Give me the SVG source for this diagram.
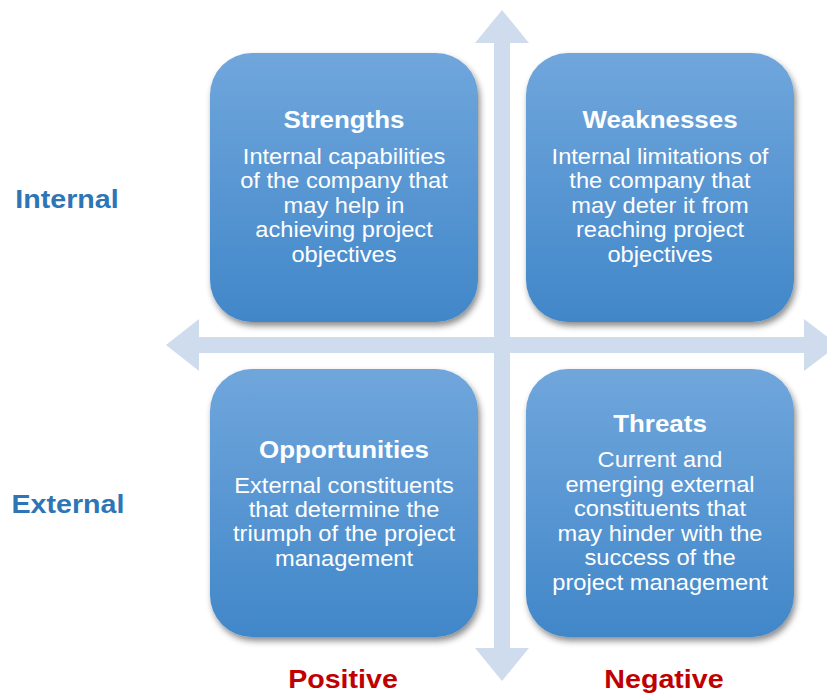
<svg xmlns="http://www.w3.org/2000/svg" width="827" height="696" viewBox="0 0 827 696">
  <defs>
    <linearGradient id="boxGrad" x1="0" y1="0" x2="0" y2="1">
      <stop offset="0" stop-color="#70a6dc"/>
      <stop offset="1" stop-color="#4187c9"/>
    </linearGradient>
    <filter id="shadow" x="-10%" y="-10%" width="125%" height="130%">
      <feDropShadow dx="2" dy="4" stdDeviation="3" flood-color="#000" flood-opacity="0.45"/>
    </filter>
    <style>
      .box { fill: url(#boxGrad); filter: url(#shadow); }
      .title { font-family: "Liberation Sans", Arial, sans-serif; font-weight: bold; font-size: 24px; fill: #fff; text-anchor: middle; }
      .body { font-family: "Liberation Sans", Arial, sans-serif; font-size: 21.5px; fill: #fff; text-anchor: middle; }
      .side { font-family: "Liberation Sans", Arial, sans-serif; font-weight: bold; font-size: 26.5px; fill: #2e75b6; text-anchor: middle; }
      .bottom { font-family: "Liberation Sans", Arial, sans-serif; font-weight: bold; font-size: 26.5px; fill: #c00000; text-anchor: middle; }
      .axis { fill: #cfdcee; }
    </style>
  </defs>

  <g id="connectors">
    <polygon class="axis" points="166,345 199,319 199,337 804,337 804,319 838,345 804,371 804,353 199,353 199,371"/>
    <polygon class="axis" points="502,10 529,43 510,43 510,648 529,648 502,681 475,648 494,648 494,43 475,43"/>
  </g>

  <g id="strengths">
    <rect class="box" x="210" y="53" width="268" height="269" rx="42"/>
    <g transform="translate(344,0) scale(1.08,1)">
      <text class="title" x="0" y="128">Strengths</text>
    </g>
    <g transform="translate(344,0) scale(1.1,1)" class="body">
      <text class="body" x="0" y="164">Internal capabilities</text>
      <text class="body" x="0" y="188.5">of the company that</text>
      <text class="body" x="0" y="213">may help in</text>
      <text class="body" x="0" y="237.5">achieving project</text>
      <text class="body" x="0" y="262">objectives</text>
    </g>
  </g>

  <g id="weaknesses">
    <rect class="box" x="526" y="53" width="268" height="269" rx="42"/>
    <g transform="translate(660,0) scale(1.08,1)">
      <text class="title" x="0" y="128">Weaknesses</text>
    </g>
    <g transform="translate(660,0) scale(1.1,1)">
      <text class="body" x="0" y="164">Internal limitations of</text>
      <text class="body" x="0" y="188.5">the company that</text>
      <text class="body" x="0" y="213">may deter it from</text>
      <text class="body" x="0" y="237.5">reaching project</text>
      <text class="body" x="0" y="262">objectives</text>
    </g>
  </g>

  <g id="opportunities">
    <rect class="box" x="210" y="369" width="268" height="268" rx="42"/>
    <g transform="translate(344,0) scale(1.08,1)">
      <text class="title" x="0" y="458">Opportunities</text>
    </g>
    <g transform="translate(344,0) scale(1.1,1)">
      <text class="body" x="0" y="493">External constituents</text>
      <text class="body" x="0" y="517">that determine the</text>
      <text class="body" x="0" y="541.5">triumph of the project</text>
      <text class="body" x="0" y="566">management</text>
    </g>
  </g>

  <g id="threats">
    <rect class="box" x="526" y="369" width="268" height="268" rx="42"/>
    <g transform="translate(660,0) scale(1.08,1)">
      <text class="title" x="0" y="432">Threats</text>
    </g>
    <g transform="translate(660,0) scale(1.1,1)">
      <text class="body" x="0" y="467.5">Current and</text>
      <text class="body" x="0" y="492">emerging external</text>
      <text class="body" x="0" y="516.5">constituents that</text>
      <text class="body" x="0" y="541">may hinder with the</text>
      <text class="body" x="0" y="565.5">success of the</text>
      <text class="body" x="0" y="590">project management</text>
    </g>
  </g>

  <g id="label-internal" transform="translate(67,0) scale(1.08,1)">
    <text class="side" x="0" y="208">Internal</text>
  </g>
  <g id="label-external" transform="translate(68,0) scale(1.08,1)">
    <text class="side" x="0" y="513">External</text>
  </g>
  <g id="label-positive" transform="translate(343,0) scale(1.08,1)">
    <text class="bottom" x="0" y="688">Positive</text>
  </g>
  <g id="label-negative" transform="translate(664,0) scale(1.08,1)">
    <text class="bottom" x="0" y="688">Negative</text>
  </g>
</svg>
